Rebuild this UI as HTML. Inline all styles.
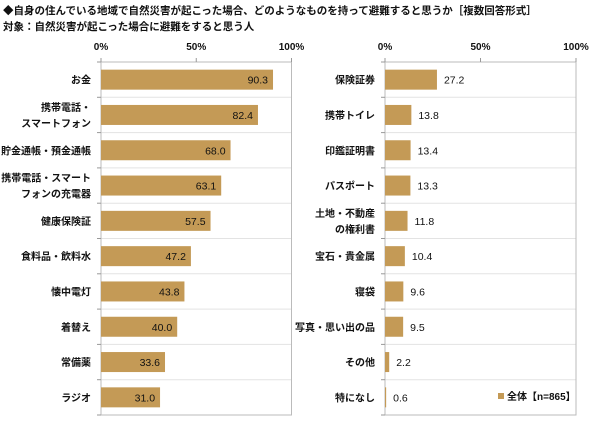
<!DOCTYPE html>
<html><head><meta charset="utf-8"><style>
body{margin:0;background:#fff;font-family:"Liberation Sans","Noto Sans CJK JP",sans-serif;}
svg text{font-family:"Liberation Sans","Noto Sans CJK JP",sans-serif;fill:#111;}
</style></head><body>
<svg id="c" width="600" height="427">
<text x="3" y="14" font-size="10.5" font-weight="bold">◆自身の住んでいる地域で自然災害が起こった場合、どのようなものを持って避難すると思うか［複数回答形式］</text>
<text x="3" y="30" font-size="10.5" font-weight="bold">対象：自然災害が起こった場合に避難をすると思う人</text>
</svg>
<script>
const leftCats=[["お金"],["携帯電話・","スマートフォン"],["貯金通帳・預金通帳"],["携帯電話・スマート","フォンの充電器"],["健康保険証"],["食料品・飲料水"],["懐中電灯"],["着替え"],["常備薬"],["ラジオ"]];
const leftVals=[90.3,82.4,68.0,63.1,57.5,47.2,43.8,40.0,33.6,31.0];
const rightCats=[["保険証券"],["携帯トイレ"],["印鑑証明書"],["パスポート"],["土地・不動産","の権利書"],["宝石・貴金属"],["寝袋"],["写真・思い出の品"],["その他"],["特になし"]];
const rightVals=[27.2,13.8,13.4,13.3,11.8,10.4,9.6,9.5,2.2,0.6];
const ticks=[0,50,100];
const NS="http://www.w3.org/2000/svg";
const svg=document.getElementById('c');
function mk(t,a,p){const e=document.createElementNS(NS,t);for(const k in a)e.setAttribute(k,a[k]);(p||svg).appendChild(e);return e;}
const plotTop=62,plotBottom=415,rowH=(plotBottom-plotTop)/10;
function ry(i){return plotTop+rowH*i;}
function drawPanel(x0,W,cats,vals,inside,name){
  const xs=v=>x0+v/100*W;
  const g=mk('g',{});
  
  
  for(let i=1;i<10;i++){mk('line',{x1:x0,x2:x0+W,y1:ry(i),y2:ry(i),stroke:'#e3e3e3','stroke-width':1},g);}
  mk('rect',{x:x0,y:plotTop,width:W,height:plotBottom-plotTop,fill:'none',stroke:'#bbb','stroke-width':1},g);
  for(let i=0;i<=10;i++)mk('line',{x1:x0-4,x2:x0,y1:ry(i),y2:ry(i),stroke:'#999'},g);
  ticks.forEach(t=>{const tx=mk('text',{x:xs(t),y:50,'font-size':10,'font-weight':'bold','text-anchor':'middle'},g);tx.textContent=t+'%';
    
    
    mk('line',{x1:xs(t),x2:xs(t),y1:plotTop-4,y2:plotTop,stroke:'#999'},g);});
  vals.forEach((v,i)=>{
    const cy=ry(i)+rowH/2;
    const b=mk('rect',{x:x0,y:cy-10,width:xs(v)-x0,height:20,fill:'#c49a56'},g);
    
    
    const t=mk('text',{x:inside?xs(v)-5:xs(v)+7,y:cy+4,'font-size':10.5,'text-anchor':inside?'end':'start'},g);
    t.textContent=v.toFixed(1);
    
    
    const lines=cats[i];
    lines.forEach((s,j)=>{const c=mk('text',{x:x0-10,y:cy+4+(j-(lines.length-1)/2)*16,'font-size':10,'font-weight':'bold','text-anchor':'end'},g);c.textContent=s;
      
      });
  });
}
drawPanel(101,190.5,leftCats,leftVals,true,'left-panel');
drawPanel(385,191,rightCats,rightVals,false,'right-panel');
const lg=mk('g',{});


mk('rect',{x:498,y:393,width:6,height:6,fill:'#c49a56'},lg);
const lt=mk('text',{x:507,y:400,'font-size':10,'font-weight':'bold'},lg);lt.textContent='全体【n=865】';
</script>
</body></html>
